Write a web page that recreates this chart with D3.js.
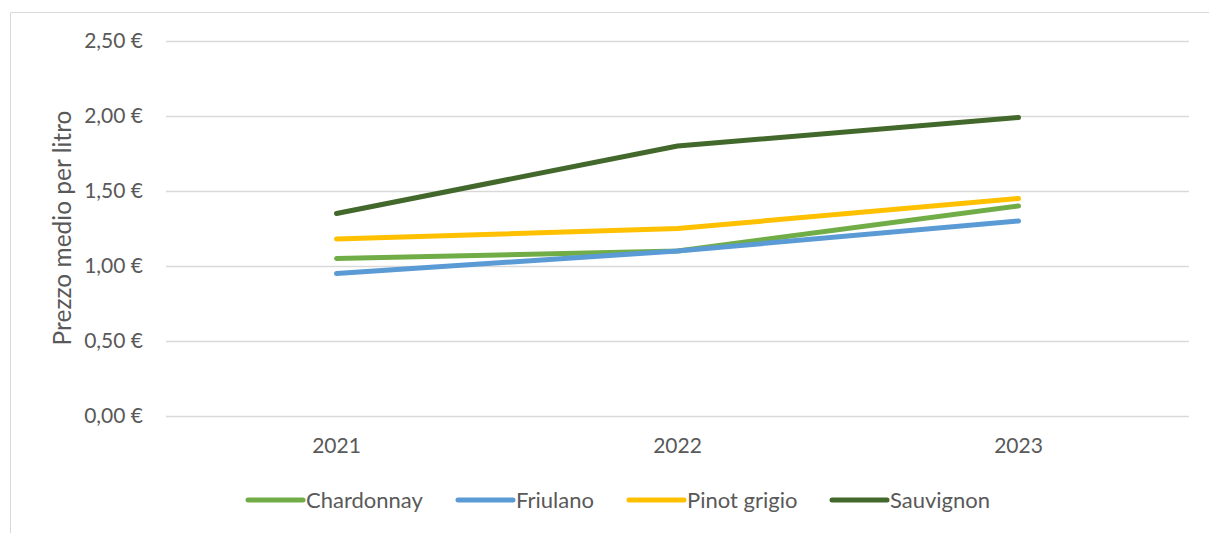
<!DOCTYPE html>
<html><head><meta charset="utf-8">
<script src="https://cdn.jsdelivr.net/npm/d3@7"></script>
<style>body{margin:0;background:#fff}svg{display:block;font-family:Lato,"Open Sans",sans-serif}</style>
</head><body><svg id="c" width="1209" height="533"></svg>
<script>
const years = ["2021","2022","2023"];
const seriesNames = ["Chardonnay","Friulano","Pinot grigio","Sauvignon"];
const chardonnay = [1.05,1.10,1.40];
const friulano = [0.95,1.10,1.30];
const pinotGrigio = [1.18,1.25,1.45];
const sauvignon = [1.35,1.80,1.99];
const yTicks = [0,0.5,1,1.5,2,2.5];
const colors = ["#70AD47","#5B9BD5","#FFC000","#43682B"];
const seriesValues = [chardonnay,friulano,pinotGrigio,sauvignon];

const svg = d3.select("#c");
const txt = "#595959";
svg.append("path").attr("d","M10.5,533V12.5H1209").attr("fill","none").attr("stroke","#d9d9d9").attr("stroke-width",1);

const x = d3.scaleBand().domain(years).range([166,1189]);
const y = d3.scaleLinear().domain([0,2.5]).range([416,41]);

const fmt = v => d3.format(".2f")(v).replace(".",",") + " €";
const yAxis = svg.append("g").attr("transform","translate(166,0)")
  .call(d3.axisLeft(y).tickValues(yTicks).tickSize(-1023).tickFormat(fmt).tickPadding(23));
yAxis.select(".domain").remove();
yAxis.selectAll(".tick line").attr("stroke","#d9d9d9").attr("stroke-width",1.5);
yAxis.selectAll(".tick text").attr("fill",txt).attr("font-size",21).attr("font-family","Lato,sans-serif");

const xAxis = svg.append("g").attr("transform","translate(0,416)")
  .call(d3.axisBottom(x).tickSize(0).tickPadding(22));
xAxis.select(".domain").remove();
xAxis.selectAll(".tick text").attr("fill",txt).attr("font-size",21).attr("font-family","Lato,sans-serif");

svg.append("text").attr("transform","translate(62,228) rotate(-90)")
  .attr("text-anchor","middle").attr("dy","0.35em").attr("fill",txt).attr("font-size",24.5).text("Prezzo medio per litro");

const line = d3.line().x((d,i)=>x(years[i])+x.bandwidth()/2).y(d=>y(d));
seriesValues.forEach((vals,k)=>{
  svg.append("path").attr("d",line(vals)).attr("fill","none")
    .attr("stroke",colors[k]).attr("stroke-width",5)
    .attr("stroke-linecap","round").attr("stroke-linejoin","round");
});

const legX = [248,458,629,832];
const lg = svg.append("g");
seriesNames.forEach((n,k)=>{
  lg.append("line").attr("x1",legX[k]).attr("x2",legX[k]+55).attr("y1",500).attr("y2",500)
    .attr("stroke",colors[k]).attr("stroke-width",5).attr("stroke-linecap","round");
  lg.append("text").attr("x",legX[k]+58).attr("y",500).attr("dy","0.35em")
    .attr("fill",txt).attr("font-size",22).text(n);
});
</script></body></html>
